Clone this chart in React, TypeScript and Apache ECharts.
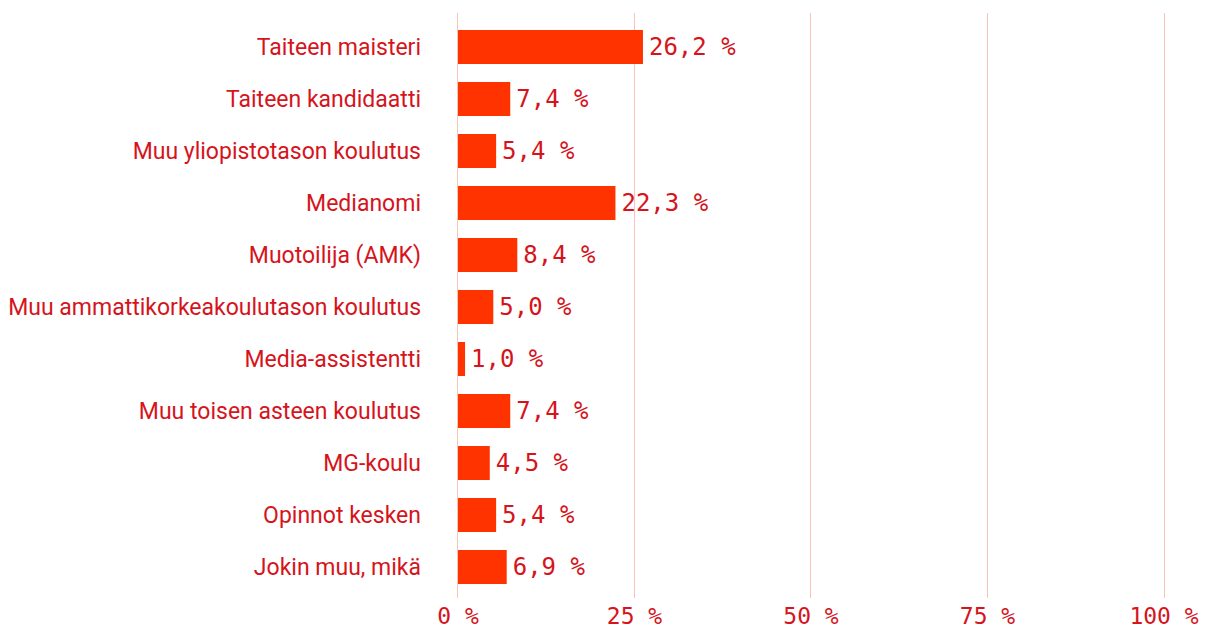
import React, { useEffect, useRef } from "react";
import * as echarts from "echarts";

const categories = [
  "Taiteen maisteri",
  "Taiteen kandidaatti",
  "Muu yliopistotason koulutus",
  "Medianomi",
  "Muotoilija (AMK)",
  "Muu ammattikorkeakoulutason koulutus",
  "Media-assistentti",
  "Muu toisen asteen koulutus",
  "MG-koulu",
  "Opinnot kesken",
  "Jokin muu, mikä",
];
const values = [26.2, 7.4, 5.4, 22.3, 8.4, 5.0, 1.0, 7.4, 4.5, 5.4, 6.9];
const xMin = 0;
const xMax = 100;
const xInterval = 25;

const MONO = "'DejaVu Sans Mono', 'Liberation Mono', monospace";
const SANS = "Roboto, 'Noto Sans', sans-serif";
const TEXT_RED = "#d5141c";
const BAR = "#ff3300";

export default function App() {
  const ref = useRef<HTMLDivElement>(null);
  useEffect(() => {
    document.body.style.margin = "0";
    const chart = echarts.init(ref.current!, undefined, { renderer: "svg" });
    chart.setOption({
      animation: false,
      grid: [
        { left: 458, right: 45, top: 21, height: 572 },
        { left: 457, right: 45, top: 13, bottom: 30 },
      ],
      xAxis: [
        {
          gridIndex: 0,
          type: "value",
          min: xMin,
          max: xMax,
          interval: xInterval,
          axisLine: { show: false },
          axisTick: { show: false },
          splitLine: { show: false },
          axisLabel: {
            color: TEXT_RED,
            fontFamily: MONO,
            fontSize: 23,
            lineHeight: 22,
            margin: 12,
            formatter: (v: number) => `${v} %`,
          },
        },
        {
          gridIndex: 1,
          type: "value",
          min: xMin,
          max: xMax,
          interval: xInterval,
          axisLine: { show: false },
          axisTick: { show: false },
          axisLabel: { show: false },
          splitLine: {
            show: true,
            lineStyle: { color: "#f8c4b8", width: 1, type: "solid" },
          },
        },
      ],
      yAxis: [
        {
          gridIndex: 0,
          type: "category",
          data: categories,
          inverse: true,
          axisLine: { show: false },
          axisTick: { show: false },
          axisLabel: {
            color: TEXT_RED,
            fontFamily: SANS,
            fontSize: 23,
            margin: 37,
          },
        },
        {
          gridIndex: 1,
          type: "category",
          data: categories,
          show: false,
        },
      ],
      series: [
        {
          type: "bar",
          xAxisIndex: 0,
          yAxisIndex: 0,
          data: values,
          barWidth: 34,
          z: 5,
          itemStyle: { color: BAR },
          label: {
            show: true,
            position: "right",
            distance: 6,
            color: TEXT_RED,
            fontFamily: MONO,
            fontSize: 24,
            formatter: (p: any) => `${p.value.toFixed(1).replace(".", ",")} %`,
          },
        },
      ],
    });
    return () => chart.dispose();
  }, []);
  return <div ref={ref} style={{ width: 1209, height: 628 }} />;
}
